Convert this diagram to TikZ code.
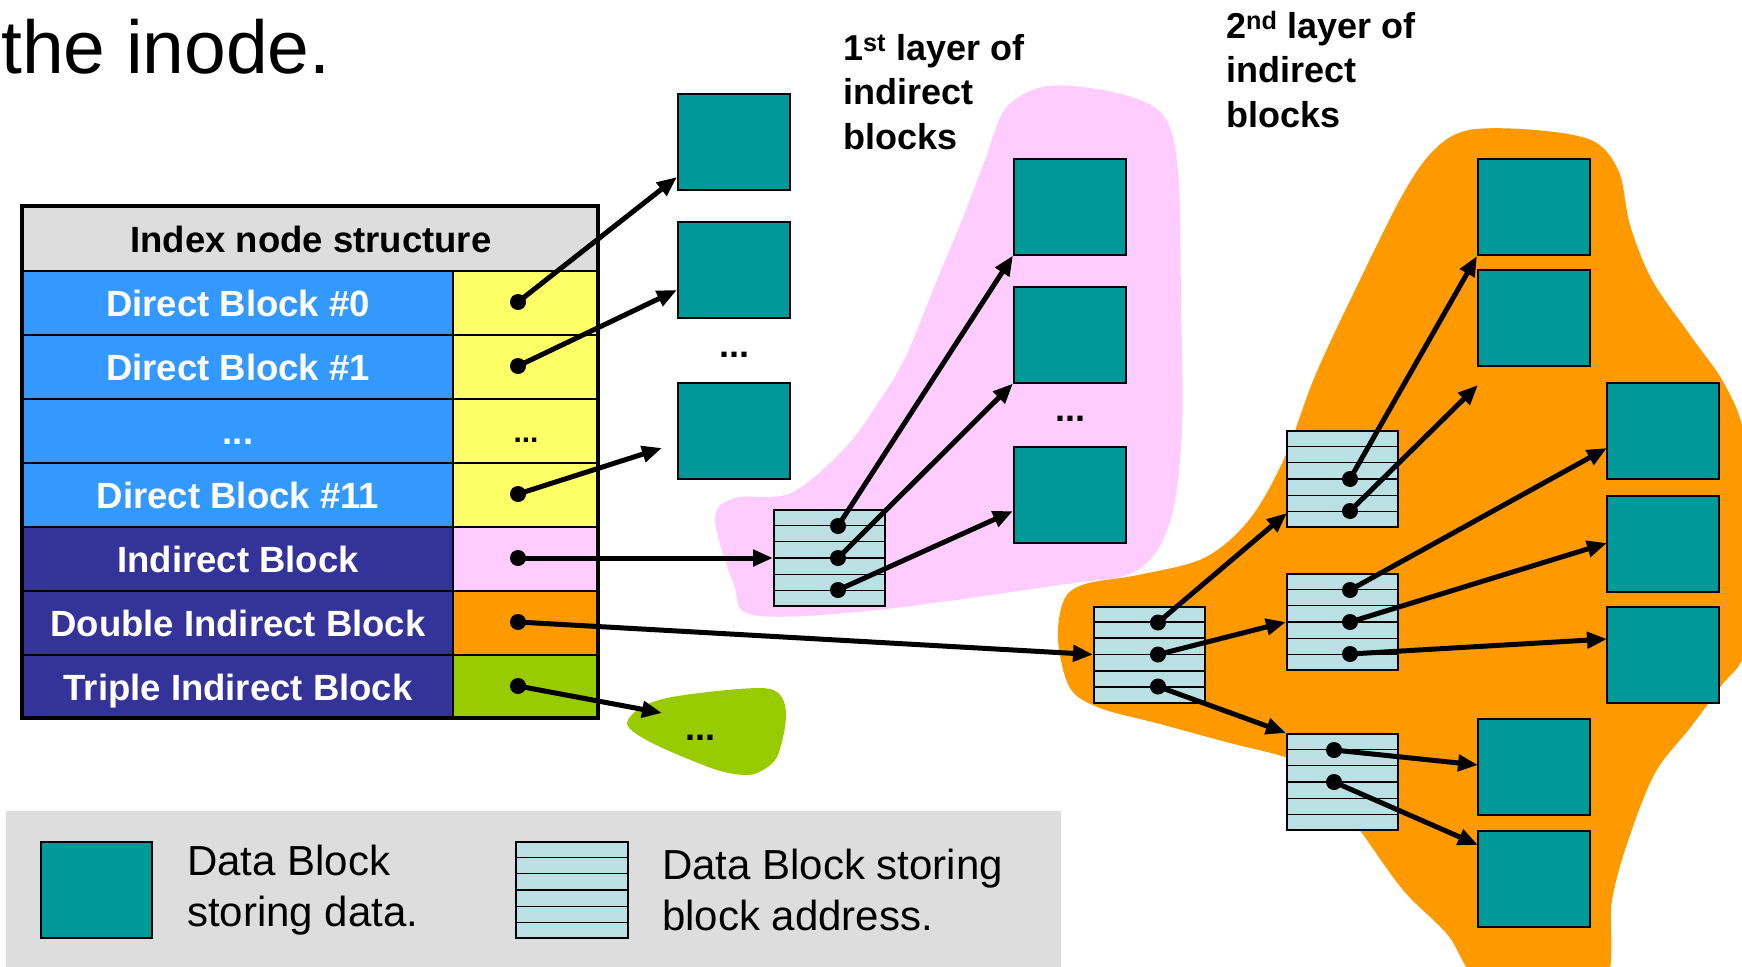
\documentclass[tikz,border=0pt]{standalone}
\usepackage{fontspec}
\setmainfont{Liberation Sans}
\usetikzlibrary{arrows.meta,calc}
\definecolor{tealblk}{HTML}{009999}
\definecolor{addrblue}{HTML}{BBE0E3}
\definecolor{dirblue}{HTML}{3399FF}
\definecolor{indblue}{HTML}{333399}
\definecolor{ylw}{HTML}{FFFF66}
\definecolor{pnk}{HTML}{FFCCFF}
\definecolor{org}{HTML}{FF9900}
\definecolor{grn}{HTML}{99CC00}
\definecolor{lgray}{HTML}{DDDDDD}
\begin{document}
\begin{tikzpicture}[x=1pt,y=-1pt,
 datablk/.style={draw=black, line width=2pt, fill=tealblk, minimum width=112pt, minimum height=96pt, inner sep=0pt},
 addrblk/.style={draw=black, line width=2pt, fill=addrblue, minimum width=111pt, minimum height=96pt, inner sep=0pt},
 arr/.style={line width=5pt, -{Triangle[length=20pt,width=16pt]}},
 lcell/.style={draw=black, line width=2pt, minimum width=430pt, minimum height=64pt, anchor=north west, inner sep=0pt, text=white, font=\fontsize{36.5}{44}\selectfont\bfseries, text height=26pt, text depth=0pt},
 rcell/.style={draw=black, line width=2pt, minimum width=146pt, minimum height=64pt, anchor=north west, inner sep=0pt, font=\fontsize{30}{36}\selectfont\bfseries, text height=22pt, text depth=0pt},
 lbl/.style={font=\fontsize{36}{44.5}\selectfont\bfseries, align=left, anchor=north west, inner sep=0pt},
 legtxt/.style={font=\fontsize{42}{51}\selectfont, align=left, anchor=west, inner sep=0pt},
 ellip/.style={font=\fontsize{36}{44}\selectfont\bfseries, text height=26pt, text depth=0pt, inner sep=0pt}
]
\useasboundingbox (0,0) rectangle (1742,966);
\begin{scope}
\clip (0,0) rectangle (1742,966);
% blobs
\fill[org] plot[smooth cycle, tension=0.55] coordinates {(1058,640) (1064,600) (1085,584) (1138,575) (1204,558) (1249,520) (1284,459) (1315,376) (1359,282) (1403,194) (1434,150) (1469,130) (1535,130) (1593,141) (1619,172) (1630,225) (1652,280) (1690,335) (1725,385) (1745,440) (1750,550) (1745,650) (1721,686) (1690,728) (1655,773) (1628,841) (1612,900) (1600,990) (1490,990) (1447,934) (1403,890) (1359,829) (1324,785) (1293,760) (1226,742) (1160,724) (1100,708) (1070,688)};
\fill[pnk] plot[smooth cycle, tension=0.55] coordinates {(715,519) (735,498) (791,493) (845,448) (880,400) (906,356) (935,285) (964,215) (985,160) (1006,108) (1048,86) (1117,93) (1163,115) (1178,171) (1181,300) (1182,430) (1170,522) (1136,571) (1059,585) (868,611) (753,615) (734,585)};
\fill[grn] plot[smooth cycle, tension=0.55] coordinates {(627,723) (640,708) (667,698) (717,691) (760,688) (777,692) (785,705) (785,727) (777,757) (763,770) (747,775) (717,770) (667,750) (638,735)};
% legend background
\fill[lgray] (6,811) rectangle (1061,970);
\end{scope}

% title
\node[anchor=base west, inner sep=0pt, font=\fontsize{75}{80}\selectfont] (title) at (1,74) {the inode.};

% table
\node[draw=black, line width=2pt, fill=lgray, minimum width=576pt, minimum height=64pt, anchor=north west, inner sep=0pt, font=\fontsize{36.5}{44}\selectfont\bfseries, text height=26pt, text depth=0pt] (hdr) at (22,206) {Index node structure};
\node[lcell, fill=dirblue] (r0) at (22,270) {Direct Block \#0};
\node[lcell, fill=dirblue] (r1) at (22,334) {Direct Block \#1};
\node[lcell, fill=dirblue] (r2) at (22,398) {...};
\node[lcell, fill=dirblue] (r3) at (22,462) {Direct Block \#11};
\node[lcell, fill=indblue] (r4) at (22,526) {Indirect Block};
\node[lcell, fill=indblue] (r5) at (22,590) {Double Indirect Block};
\node[lcell, fill=indblue] (r6) at (22,654) {Triple Indirect Block};
\node[rcell, fill=ylw] (v0) at (452,270) {};
\node[rcell, fill=ylw] (v1) at (452,334) {};
\node[rcell, fill=ylw] (v2) at (452,398) {...};
\node[rcell, fill=ylw] (v3) at (452,462) {};
\node[rcell, fill=pnk] (v4) at (452,526) {};
\node[rcell, fill=org] (v5) at (452,590) {};
\node[rcell, fill=grn] (v6) at (452,654) {};
\draw[line width=4.5pt] (22,206) rectangle (598,718);

% direct data blocks
\node[datablk] (d0) at (734,142) {};
\node[datablk] (d1) at (734,270) {};
\node[ellip] (ddots) at (734,344) {...};
\node[datablk] (d11) at (734,431) {};

% first layer
\node[addrblk] (a1) at (829.5,558) {};
\node[datablk] (p1) at (1070,206.5) {};
\node[datablk] (p2) at (1070,334.5) {};
\node[ellip] (pdots) at (1070,408) {...};
\node[datablk] (p3) at (1070,494.5) {};

% second layer
\node[addrblk] (a2) at (1149.5,654.5) {};
\node[addrblk] (b1) at (1342.5,479) {};
\node[addrblk] (b2) at (1342.5,622) {};
\node[addrblk] (b3) at (1342.5,782) {};
\node[datablk] (c1) at (1534,207) {};
\node[datablk] (c2) at (1534,318) {};
\node[datablk] (c3) at (1534,766.5) {};
\node[datablk] (c4) at (1534,879) {};
\node[datablk] (e1) at (1663,431) {};
\node[datablk] (e2) at (1663,543.5) {};
\node[datablk] (e3) at (1663,654.5) {};

% triple
\node[ellip] (gdots) at (700,727) {...};

% legend
\node[datablk, minimum width=111pt] (l1) at (96.5,890) {};
\node[addrblk, minimum width=112pt] (l2) at (572,890) {};
\node[legtxt] (lt1) at (187,890) {Data Block\\storing data.};
\node[legtxt] (lt2) at (662,890) {Data Block storing\\block address.};

% stripes
\foreach \n in {a1,a2,b1,b2,b3,l2}
  \foreach \i in {1,...,5}
    \draw[line width=1.5pt] ($(\n.north west)!\i/6!(\n.south west)$) -- ($(\n.north east)!\i/6!(\n.south east)$);

% labels
\node[lbl] (lab1) at (843,34) {1\textsuperscript{st} layer of\\indirect\\blocks};
\node[lbl] (lab2) at (1226,11) {2\textsuperscript{nd} layer of\\indirect\\blocks};

% dot coordinates
\coordinate (q0) at (518,302);
\coordinate (q1) at (518,366);
\coordinate (q3) at (518,494);
\coordinate (q4) at (518,558);
\coordinate (q5) at (518,622);
\coordinate (q6) at (518,686);
\coordinate (a1x) at (838,526);
\coordinate (a1y) at (838,558);
\coordinate (a1z) at (838,590);
\coordinate (a2x) at (1158,622.5);
\coordinate (a2y) at (1158,654.5);
\coordinate (a2z) at (1158,686.5);
\coordinate (b1y) at (1350,479);
\coordinate (b1z) at (1350,511);
\coordinate (b2x) at (1350,590);
\coordinate (b2y) at (1350,622);
\coordinate (b2z) at (1350,654);
\coordinate (b3x) at (1334,750);
\coordinate (b3y) at (1334,782);

% target coordinates
\coordinate (t0) at (677,177);
\coordinate (t1) at (677,290);
\coordinate (t11) at (662,448);
\coordinate (tg) at (662,713);
\coordinate (tp3) at (1013,511);
\coordinate (tb1) at (1287,513);
\coordinate (tc2) at (1478,385);
\coordinate (te1) at (1607,448);
\coordinate (te2) at (1607,543);
\coordinate (te3) at (1607,639);
\coordinate (tc3) at (1478,765);
\coordinate (tc4) at (1478,845);

% arrows
\draw[arr] (q0) -- (t0);
\draw[arr] (q1) -- (t1);
\draw[arr] (q3) -- (t11);
\draw[arr] (q4) -- (a1.west);
\draw[arr] (q5) -- (a2.west);
\draw[arr] (q6) -- (tg);
\draw[arr] (a1x) -- (p1.south west);
\draw[arr] (a1y) -- (p2.south west);
\draw[arr] (a1z) -- (tp3);
\draw[arr] (a2x) -- (tb1);
\draw[arr] (a2y) -- (b2.west);
\draw[arr] (a2z) -- (b3.north west);
\draw[arr] (b1y) -- (c1.south west);
\draw[arr] (b1z) -- (tc2);
\draw[arr] (b2x) -- (te1);
\draw[arr] (b2y) -- (te2);
\draw[arr] (b2z) -- (te3);
\draw[arr] (b3x) -- (tc3);
\draw[arr] (b3y) -- (tc4);

% dots
\foreach \c in {q0,q1,q3,q4,q5,q6,a1x,a1y,a1z,a2x,a2y,a2z,b1y,b1z,b2x,b2y,b2z,b3x,b3y}
  \fill (\c) circle (8);
\end{tikzpicture}
\end{document}
